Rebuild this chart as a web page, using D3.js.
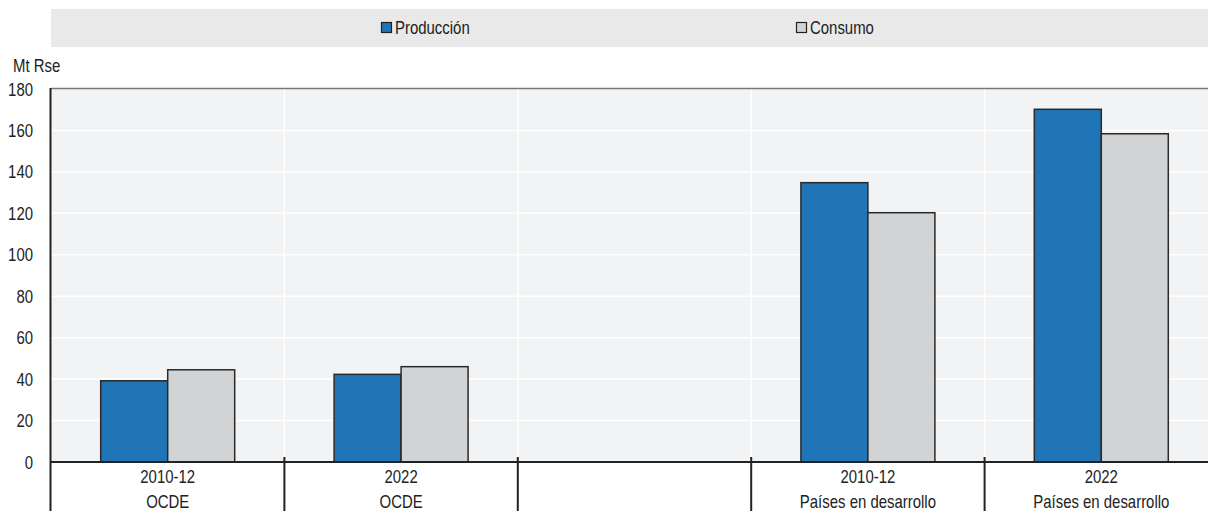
<!DOCTYPE html>
<html>
<head>
<meta charset="utf-8">
<script src="https://cdn.jsdelivr.net/npm/d3@7"></script>
<style>
  html, body { margin: 0; padding: 0; background: #ffffff; }
  svg { display: block; }
  text { font-family: "Liberation Sans", Arial, sans-serif; fill: #222; }
</style>
</head>
<body>
<svg id="chart" width="1208" height="511"></svg>
<script>
// Data: sugar production and consumption (Mt raw sugar equivalent)
const periods = ["2010-12", "2022", "", "2010-12", "2022"];
const groups = ["OCDE", "OCDE", "", "Países en desarrollo", "Países en desarrollo"];
const seriesNames = ["Producción", "Consumo"];
const produccion = [39.2, 42.3, null, 134.8, 170.2];
const consumo = [44.5, 46.0, null, 120.3, 158.4];
const yTicks = [0, 20, 40, 60, 80, 100, 120, 140, 160, 180];
const unitLabel = "Mt Rse";

const colors = { "Producción": "#2075b7", "Consumo": "#d2d3d5" };

const W = 1208, H = 511;
const plot = { left: 51, right: 1218, top: 89, bottom: 462 };
const FS = 18;        // label font size
const NARROW = 0.83;  // horizontal squeeze for a condensed look

const svg = d3.select("#chart");

// Place a condensed text label at (x, y)
function label(parent, x, y, str, anchor) {
  return parent.append("text")
    .attr("transform", `translate(${x},${y}) scale(${NARROW},1)`)
    .attr("text-anchor", anchor || "start")
    .attr("font-size", FS)
    .text(str);
}

// Legend band
svg.append("rect")
  .attr("x", 51).attr("y", 9).attr("width", W - 51).attr("height", 38)
  .attr("fill", "#e9e9e9");

const legendX = [381, 796];
seriesNames.forEach((s, i) => {
  const g = svg.append("g").attr("transform", `translate(${legendX[i]},22)`);
  g.append("rect").attr("x", 0.5).attr("y", 0.5).attr("width", 10).attr("height", 10)
    .attr("fill", colors[s]).attr("stroke", "#222").attr("stroke-width", 1.2);
  label(g, 14, 12, s);
});

// Scales
const keys = d3.range(periods.length);
const x = d3.scaleBand().domain(keys).range([plot.left, plot.right]).padding(0);
const xInner = d3.scaleBand().domain(seriesNames).range([0, x.bandwidth()])
  .paddingInner(0).paddingOuter(0.742);
const y = d3.scaleLinear().domain([0, 180]).range([plot.bottom, plot.top]);

// Plot background
svg.append("rect")
  .attr("x", plot.left).attr("y", plot.top)
  .attr("width", plot.right - plot.left).attr("height", plot.bottom - plot.top)
  .attr("fill", "#f2f3f5");

// Gridlines
svg.append("g").selectAll("line").data(yTicks.filter(t => t > 0 && t < 180)).join("line")
  .attr("x1", plot.left).attr("x2", plot.right)
  .attr("y1", d => y(d)).attr("y2", d => y(d))
  .attr("stroke", "#ffffff").attr("stroke-width", 1.5);

svg.append("g").selectAll("line").data(keys.slice(1)).join("line")
  .attr("x1", d => x(d)).attr("x2", d => x(d))
  .attr("y1", plot.top).attr("y2", plot.bottom)
  .attr("stroke", "#ffffff").attr("stroke-width", 1.5);

// Top border
svg.append("line")
  .attr("x1", plot.left).attr("x2", plot.right)
  .attr("y1", plot.top - 0.5).attr("y2", plot.top - 0.5)
  .attr("stroke", "#777").attr("stroke-width", 1.5);

// Bars
const rows = keys.map(i => ({ i, vals: [
  { s: "Producción", v: produccion[i] },
  { s: "Consumo", v: consumo[i] }
]}));

svg.append("g").selectAll("g").data(rows).join("g")
  .attr("transform", d => `translate(${x(d.i)},0)`)
  .selectAll("rect").data(d => d.vals.filter(e => e.v != null)).join("rect")
  .attr("x", d => xInner(d.s))
  .attr("width", xInner.bandwidth())
  .attr("y", d => y(d.v))
  .attr("height", d => y(0) - y(d.v))
  .attr("fill", d => colors[d.s])
  .attr("stroke", "#2a2a2a").attr("stroke-width", 1.5);

// Y axis
const yAxis = d3.axisLeft(y).tickValues(yTicks).tickSize(0).tickPadding(0);
const ya = svg.append("g").attr("transform", `translate(${plot.left},0)`).call(yAxis);
ya.select(".domain").remove();
ya.selectAll("text")
  .attr("x", null).attr("dy", null)
  .attr("transform", `translate(-18,6) scale(${NARROW},1)`)
  .attr("font-size", FS).attr("fill", "#222")
  .style("font-family", "\"Liberation Sans\", Arial, sans-serif");

label(svg, 13, 72, unitLabel);

// Left axis line running down through the label area
svg.append("line")
  .attr("x1", plot.left - 0.5).attr("x2", plot.left - 0.5)
  .attr("y1", plot.top - 1).attr("y2", H)
  .attr("stroke", "#222").attr("stroke-width", 2);

// X axis baseline
svg.append("line")
  .attr("x1", plot.left).attr("x2", plot.right)
  .attr("y1", y(0)).attr("y2", y(0))
  .attr("stroke", "#222").attr("stroke-width", 2.2);

// Category separators below the axis
svg.append("g").selectAll("line").data(keys.slice(1)).join("line")
  .attr("x1", d => x(d)).attr("x2", d => x(d))
  .attr("y1", y(0) - 5).attr("y2", H)
  .attr("stroke", "#222").attr("stroke-width", 2);

// Category labels (two lines)
const catG = svg.append("g");
keys.forEach(k => {
  const cx = x(k) + x.bandwidth() / 2;
  label(catG, cx, 483, periods[k], "middle");
  label(catG, cx, 508, groups[k], "middle");
});
</script>
</body>
</html>
